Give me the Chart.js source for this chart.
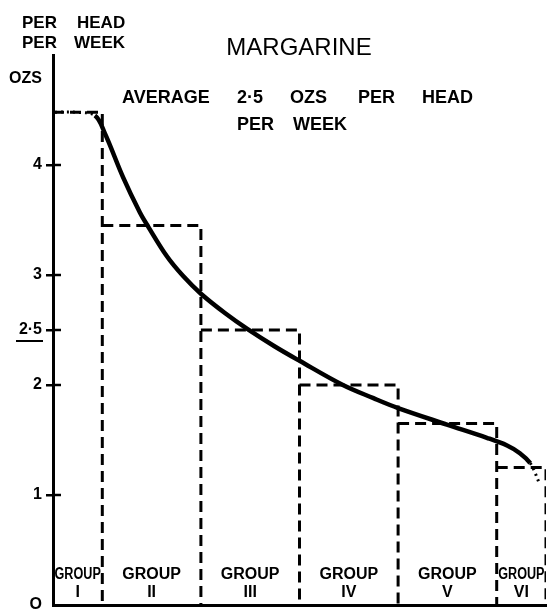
<!DOCTYPE html>
<html>
<head>
<meta charset="utf-8">
<script src="https://cdn.jsdelivr.net/npm/chart.js@4/dist/chart.umd.min.js"></script>
<style>
  body { margin: 0; background: #fff; }
  #wrap { width: 547px; height: 614px; }
</style>
</head>
<body>
<div id="wrap"><canvas id="graph" width="547" height="614"></canvas></div>
<script>
// groups of households, % of population on x, ozs per head per week on y
const groupNames = ['GROUP', 'GROUP', 'GROUP', 'GROUP', 'GROUP', 'GROUP'];
const groupNumerals = ['I', 'II', 'III', 'IV', 'V', 'VI'];
const groupEdges = [0, 10, 30, 50, 70, 90, 100];
const groupValues = [4.48, 3.45, 2.5, 2.0, 1.65, 1.25];

// smoothed consumption curve
const curveX = [0.4, 4.5, 8.5, 10.5, 14.2, 17.6, 19.3, 23.1, 26.4, 30, 35, 39.4, 45, 50, 58.8, 65, 70, 79.9, 88, 92.1, 94.7, 96.8, 97.8, 98.6];
const curveY = [4.48, 4.48, 4.45, 4.29, 3.89, 3.57, 3.44, 3.17, 2.99, 2.83, 2.65, 2.51, 2.35, 2.22, 2.0, 1.88, 1.79, 1.64, 1.52, 1.45, 1.38, 1.29, 1.2, 1.11];

const yTickValues = [0, 1, 2, 2.5, 3, 4];

const FONT = '"Liberation Sans", Arial, sans-serif';

// dashed boxes: top + right side of each group, gaps between them
let boxes = [];
for (let i = 0; i < groupValues.length; i++) {
    boxes.push({x: groupEdges[i], y: groupValues[i]});
    boxes.push({x: groupEdges[i + 1], y: groupValues[i]});
    boxes.push({x: groupEdges[i + 1], y: 0});
    boxes.push({x: groupEdges[i + 1], y: null});
}

const curve = curveX.map((x, i) => ({x: x, y: curveY[i]}));
const lastSolid = curveX.length - 3;
const dotted = c => c.p1DataIndex <= 2 || c.p0DataIndex >= lastSolid;

const textPlugin = {
    id: 'texts',
    afterDraw(chart) {
        const ctx = chart.ctx;
        const xs = chart.scales.x;
        const ys = chart.scales.y;
        ctx.save();
        ctx.fillStyle = '#000';
        ctx.strokeStyle = '#000';

        // inner half of the axis crosses
        ctx.lineWidth = 2.5;
        yTickValues.forEach(v => {
            if (v === 0) return;
            const py = ys.getPixelForValue(v);
            ctx.beginPath();
            ctx.moveTo(xs.left, py);
            ctx.lineTo(xs.left + 8, py);
            ctx.stroke();
        });

        // underline the average
        const pAvg = ys.getPixelForValue(2.5) + 11;
        ctx.lineWidth = 2;
        ctx.beginPath();
        ctx.moveTo(16, pAvg);
        ctx.lineTo(43, pAvg);
        ctx.stroke();

        ctx.textBaseline = 'alphabetic';
        ctx.textAlign = 'left';
        ctx.font = 'bold 17px ' + FONT;
        ctx.fillText('PER', 22, 28);
        ctx.fillText('HEAD', 77, 28);
        ctx.fillText('PER', 22, 48);
        ctx.fillText('WEEK', 74, 48);

        ctx.font = 'bold 16px ' + FONT;
        ctx.fillText('OZS', 9, 83);

        ctx.textAlign = 'center';
        ctx.font = '24px ' + FONT;
        ctx.fillText('MARGARINE', 299, 55);

        ctx.textAlign = 'left';
        ctx.font = 'bold 18px ' + FONT;
        ctx.fillText('AVERAGE', 122, 103);
        ctx.fillText('2·5', 237, 103);
        ctx.fillText('OZS', 290, 103);
        ctx.fillText('PER', 358, 103);
        ctx.fillText('HEAD', 422, 103);
        ctx.fillText('PER', 237, 130);
        ctx.fillText('WEEK', 293, 130);

        // group labels along the bottom
        ctx.textAlign = 'center';
        ctx.font = 'bold 16px ' + FONT;
        for (let i = 0; i < groupNames.length; i++) {
            const a = xs.getPixelForValue(groupEdges[i]);
            const b = xs.getPixelForValue(groupEdges[i + 1]);
            const c = (a + b) / 2;
            ctx.fillText(groupNames[i], c, 579, b - a - 3);
            ctx.fillText(groupNumerals[i], c, 597);
        }
        ctx.restore();
    }
};

new Chart(document.getElementById('graph'), {
    type: 'line',
    data: {
        datasets: [{
            data: boxes,
            borderColor: '#000',
            borderWidth: 3,
            borderDash: [11, 6],
            pointRadius: 0,
            spanGaps: false,
            tension: 0
        }, {
            data: curve,
            borderColor: '#000',
            borderWidth: 4.5,
            pointRadius: 0,
            tension: 0.35,
            segment: {
                borderDash: c => dotted(c) ? [2, 4] : undefined,
                borderWidth: c => dotted(c) ? 3 : undefined
            }
        }]
    },
    options: {
        responsive: false,
        animation: false,
        layout: { padding: { top: 55, right: 1, left: 0, bottom: 0 } },
        plugins: { legend: { display: false }, tooltip: { enabled: false } },
        scales: {
            x: {
                type: 'linear',
                min: 0,
                max: 100,
                ticks: { display: false },
                grid: { display: false, drawTicks: false },
                border: { display: true, color: '#000', width: 3 },
                afterFit: s => { s.height = 9; }
            },
            y: {
                type: 'linear',
                min: 0,
                max: 5,
                afterBuildTicks: s => { s.ticks = yTickValues.map(v => ({value: v})); },
                ticks: {
                    color: '#000',
                    padding: 4,
                    font: { family: FONT, size: 16, weight: 'bold' },
                    callback: v => v === 0 ? 'O' : String(v).replace('.', '·')
                },
                grid: {
                    drawOnChartArea: false,
                    drawTicks: true,
                    tickLength: 7,
                    lineWidth: 2.5,
                    color: c => (c.tick && c.tick.value === 0) ? 'rgba(0,0,0,0)' : '#000'
                },
                border: { display: true, color: '#000', width: 3 },
                afterFit: s => { s.width = 53; s.paddingTop = 0; s.paddingBottom = 0; }
            }
        }
    },
    plugins: [textPlugin]
});
</script>
</body>
</html>
